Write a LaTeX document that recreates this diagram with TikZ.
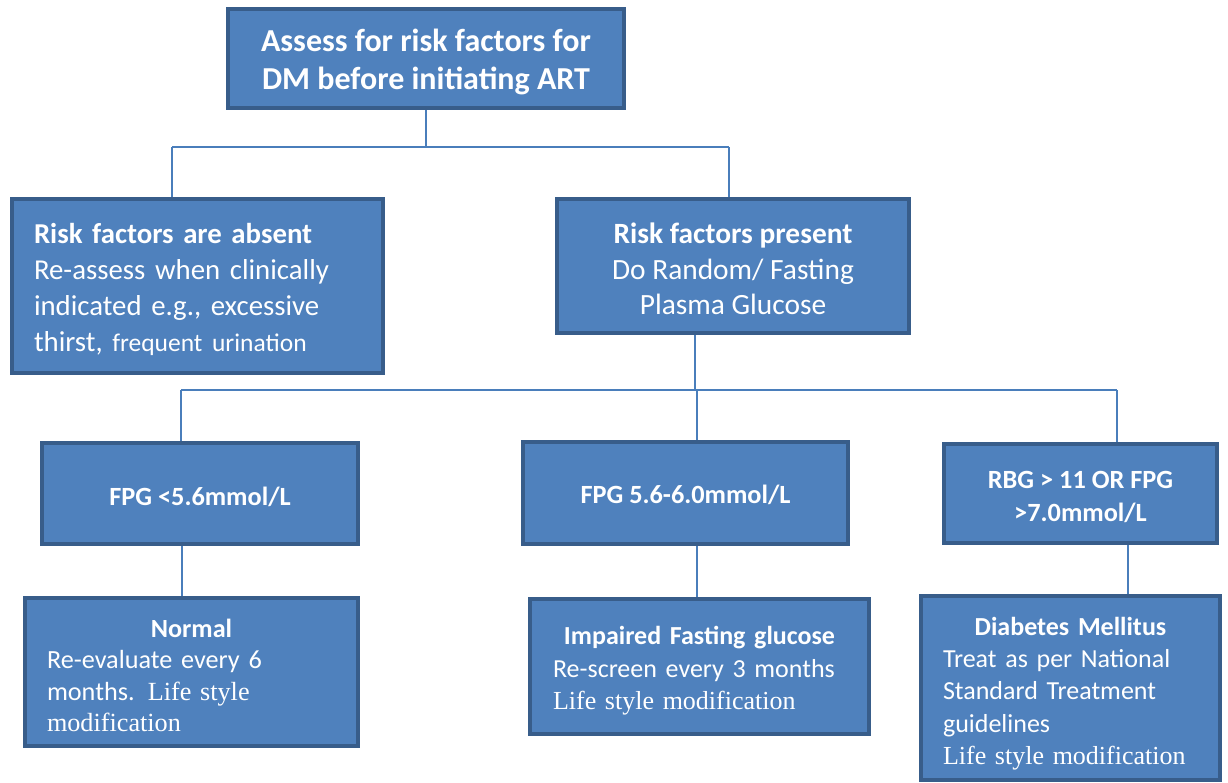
\documentclass[tikz,border=0pt]{standalone}
\usepackage{fontspec}
\setmainfont{Carlito}
\newfontfamily\tms{Liberation Serif}
\definecolor{boxfill}{HTML}{4F81BD}
\definecolor{boxline}{HTML}{385D8A}
\definecolor{conn}{HTML}{4A7EBB}
\tikzset{
  box/.style={draw=boxline, fill=boxfill, line width=4pt, text=white, inner sep=0pt, rectangle},
  link/.style={draw=conn, line width=1.5pt}
}
\begin{document}
\begin{tikzpicture}[x=1pt,y=-1pt]
\useasboundingbox (0,0) rectangle (1228,782);
% top
\node[box, minimum width=396pt, minimum height=99pt, align=center,
      font={\fontsize{32}{38}\selectfont\bfseries}] (T) at (426,58.5)
  {\rule{0pt}{30pt}Assess for risk factors for\\DM before initiating ART};
% second row
\node[box, minimum width=371pt, minimum height=174pt, text width=327pt, align=left,
      font={\fontsize{28.8}{36}\selectfont}] (L) at (197.5,286)
  {\rule{0pt}{27pt}\textbf{Risk factors are absent}\\Re-assess when clinically\\indicated e.g., excessive\\thirst, {\fontsize{25.5}{36}\selectfont frequent urination}};
\node[box, minimum width=352pt, minimum height=134pt, align=center,
      font={\fontsize{29.4}{35.5}\selectfont}] (R) at (733,266)
  {\rule{0pt}{27pt}\textbf{Risk factors present}\\Do Random/ Fasting\\Plasma Glucose};
% third row
\node[box, minimum width=316pt, minimum height=101pt, align=center,
      font={\fontsize{26.3}{33}\selectfont\bfseries}] (M1) at (200,493.5)
  {\rule{0pt}{25pt}FPG <5.6mmol/L};
\node[box, minimum width=325pt, minimum height=102pt, align=center,
      font={\fontsize{26.3}{33}\selectfont\bfseries}] (M2) at (685.5,493)
  {\rule{0pt}{23pt}FPG 5.6-6.0mmol/L};
\node[box, minimum width=273pt, minimum height=99pt, align=center,
      font={\fontsize{26.3}{33}\selectfont\bfseries}] (M3) at (1080.5,493.5)
  {\rule{0pt}{25pt}RBG > 11 OR FPG\\>7.0mmol/L};
% bottom row
\node[box, minimum width=333pt, minimum height=148pt, text width=289pt, align=left,
      font={\fontsize{26.2}{31.5}\selectfont}] (B1) at (191.5,672)
  {\rule{0pt}{25pt}\makebox[\linewidth]{\bfseries Normal}\\Re-evaluate every 6\\months. {\tms Life style}\\{\tms modification}};
\node[box, minimum width=339pt, minimum height=135pt, text width=293pt, align=left,
      font={\fontsize{26}{32.5}\selectfont}] (B2) at (699.5,666.5)
  {\rule{0pt}{27pt}\makebox[\linewidth]{\bfseries Impaired Fasting glucose}\\Re-screen every 3 months\\{\tms Life style modification}};
\node[box, minimum width=299pt, minimum height=184pt, text width=255pt, align=left,
      font={\fontsize{26}{32.3}\selectfont}] (B3) at (1070.5,688)
  {\rule{0pt}{29pt}\makebox[\linewidth]{\bfseries Diabetes Mellitus}\\Treat as per National\\Standard Treatment\\guidelines\\{\tms Life style modification}};
% connectors
\coordinate (j1) at (426,147);
\coordinate (j1l) at (172,147);
\coordinate (j1r) at (729,147);
\draw[link] (T.south) -- (j1);
\draw[link] (j1l) -- (j1r);
\draw[link] (j1l) -- (j1l |- L.north);
\draw[link] (j1r) -- (j1r |- R.north);
\coordinate (r0) at (695,335);
\coordinate (j2) at (695,390);
\coordinate (j2l) at (181,390);
\coordinate (j2m) at (697,390);
\coordinate (j2r) at (1117,390);
\draw[link] (r0 |- R.south) -- (j2);
\draw[link] (j2l) -- (j2r);
\draw[link] (j2l) -- (j2l |- M1.north);
\draw[link] (j2m) -- (j2m |- M2.north);
\draw[link] (j2r) -- (j2r |- M3.north);
\coordinate (k1) at (182,546);
\coordinate (k2) at (697,546);
\coordinate (k3) at (1128,546);
\draw[link] (k1 |- M1.south) -- (k1 |- B1.north);
\draw[link] (k2 |- M2.south) -- (k2 |- B2.north);
\draw[link] (k3 |- M3.south) -- (k3 |- B3.north);
\end{tikzpicture}
\end{document}
